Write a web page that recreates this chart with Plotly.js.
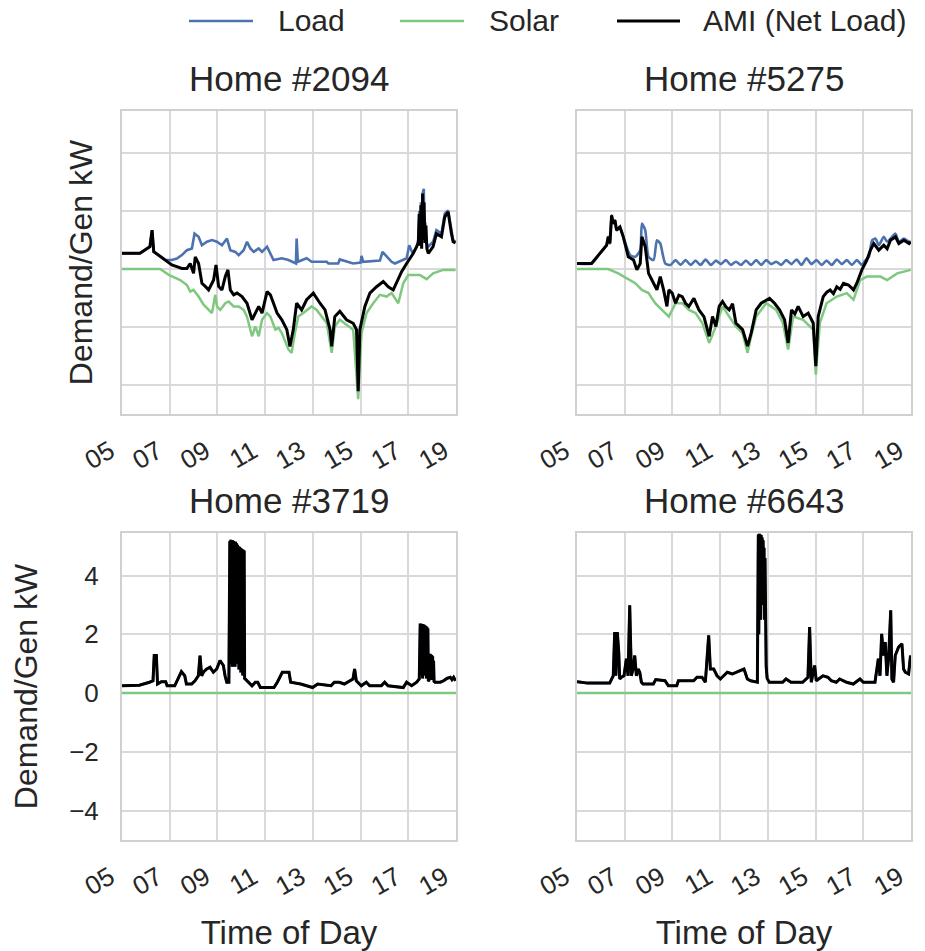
<!DOCTYPE html>
<html><head><meta charset="utf-8">
<script src="https://cdn.plot.ly/plotly-3.0.1.min.js"></script>
<style>html,body{margin:0;padding:0;background:#fff}#chart{width:925px;height:951px}</style>
</head><body><div id="chart"></div>
<script>
const homeTitles = ['Home #2094', 'Home #5275', 'Home #3719', 'Home #6643'];
const seriesNames = ['Load', 'Solar', 'AMI (Net Load)'];
const tickHours = [5, 7, 9, 11, 13, 15, 17, 19];
const tickLabels = ['05', '07', '09', '11', '13', '15', '17', '19'];
const yTicks = [-4, -2, 0, 2, 4];

// ---- Home #2094 ----
const h2094_load_t = [5.0,5.75,6.17,6.26,6.33,6.54,6.82,7.09,7.3,7.51,7.72,7.93,8.04,8.21,8.35,8.56,8.77,8.98,9.19,9.4,9.54,9.75,9.89,10.1,10.24,10.38,10.52,10.73,10.87,11.08,11.22,11.35,11.7,11.98,12.29,12.32,12.37,12.74,12.95,13.58,13.65,14.06,14.13,14.69,15.0,15.04,15.11,15.81,15.92,16.09,16.3,16.44,16.93,17.04,17.18,17.35,17.42,17.46,17.5,17.53,17.56,17.6,17.65,17.68,17.71,17.75,17.84,18.04,18.18,18.39,18.53,18.67,18.81,18.88,18.98];
const h2094_load   = [0.54,0.54,0.77,1.34,0.6,0.48,0.31,0.31,0.36,0.48,0.65,0.71,1.22,1.11,0.82,0.94,1.0,0.94,0.82,1.05,0.65,0.59,0.48,0.65,0.94,0.71,0.59,0.71,0.59,0.77,0.54,0.31,0.37,0.31,0.19,1.05,0.25,0.37,0.25,0.25,0.19,0.19,0.33,0.19,0.22,0.45,0.25,0.29,0.59,0.42,0.25,0.19,0.37,0.82,0.54,0.77,1.0,2.0,0.9,2.3,0.8,2.6,2.77,1.1,1.6,0.9,0.77,0.94,1.34,1.22,1.91,2.02,1.28,0.99,0.95];
const h2094_solar_t = [5.0,6.6,6.96,7.44,7.72,7.86,8.0,8.21,8.42,8.63,8.77,8.91,8.98,9.12,9.33,9.47,9.68,9.89,10.1,10.24,10.45,10.59,10.73,10.87,11.08,11.22,11.43,11.56,11.7,11.98,12.11,12.25,12.39,12.6,12.95,13.16,13.37,13.58,13.79,13.92,14.13,14.41,14.69,14.9,15.04,15.25,15.53,15.81,16.09,16.3,16.58,16.79,17.0,17.49,17.77,18.04,18.46,18.98];
const h2094_solar   = [0,0,-0.2,-0.38,-0.55,-0.78,-0.72,-0.95,-1.23,-1.41,-1.52,-0.89,-1.29,-1.41,-1.18,-1.12,-1.29,-1.29,-1.41,-1.64,-2.32,-1.98,-2.32,-1.75,-1.52,-1.64,-2.09,-2.03,-2.21,-2.78,-2.89,-2.21,-1.64,-1.52,-1.29,-1.41,-1.64,-1.86,-2.89,-1.98,-1.75,-1.92,-2.09,-4.49,-2.21,-1.52,-1.18,-0.89,-0.95,-0.83,-1.18,-0.49,-0.21,-0.21,-0.35,-0.15,-0.03,-0.03];
const h2094_ami_t = [5.0,5.75,6.17,6.26,6.33,6.54,6.82,7.09,7.3,7.51,7.72,7.86,8.0,8.07,8.21,8.35,8.49,8.63,8.84,8.94,9.05,9.19,9.33,9.44,9.54,9.68,9.82,10.03,10.24,10.45,10.59,10.73,10.87,11.08,11.22,11.36,11.5,11.7,11.91,12.04,12.18,12.32,12.53,12.74,13.02,13.3,13.51,13.72,13.79,13.92,14.13,14.41,14.69,14.83,14.9,14.97,15.18,15.39,15.67,15.95,16.16,16.37,16.51,16.72,16.93,17.07,17.21,17.35,17.42,17.46,17.5,17.53,17.56,17.6,17.63,17.66,17.7,17.74,17.78,17.84,18.04,18.18,18.39,18.53,18.67,18.81,18.88,18.98];
const h2094_ami   = [0.54,0.54,0.77,1.34,0.6,0.48,0.31,0.14,0.08,0.02,0.02,0.19,-0.15,0.42,0.19,-0.49,-0.6,-0.72,-0.38,0.14,-0.6,-0.72,-0.26,-0.03,-0.72,-0.89,-0.83,-0.95,-1.18,-1.75,-1.52,-1.29,-1.52,-0.78,-0.89,-1.18,-1.52,-1.75,-2.09,-2.67,-2.09,-1.18,-1.41,-1.06,-0.83,-1.18,-1.41,-2.09,-2.67,-1.64,-1.46,-1.75,-1.87,-2.09,-4.21,-2.09,-1.29,-0.83,-0.61,-0.43,-0.61,-0.72,-0.49,-0.09,0.19,0.37,0.54,0.77,0.9,1.9,0.8,2.2,0.7,2.6,1.0,2.3,0.9,1.5,0.7,0.54,0.77,1.22,1.11,1.8,1.97,1.22,0.94,0.9];

// ---- Home #5275 ----
const h5275_load_t = [5.0,5.61,5.96,6.24,6.31,6.38,6.45,6.52,6.59,6.66,6.8,6.94,7.08,7.23,7.44,7.65,7.72,7.86,8.0,8.21,8.35,8.49,8.7,8.92,9.13,9.34,9.55,9.76,9.97,10.18,10.39,10.61,10.82,11.03,11.24,11.45,11.66,11.87,12.08,12.3,12.51,12.72,12.93,13.14,13.35,13.56,13.77,13.99,14.2,14.41,14.62,14.83,15.04,15.25,15.46,15.68,15.89,16.1,16.31,16.52,16.73,16.94,17.08,17.23,17.37,17.51,17.65,17.86,18.0,18.14,18.35,18.49,18.7,18.92,18.99];
const h5275_load   = [0.19,0.19,0.54,0.82,1.11,0.88,1.85,1.57,1.68,1.34,1.45,1.11,0.77,0.48,0.42,0.65,1.57,1.34,0.42,0.31,0.99,0.88,0.19,0.14,0.31,0.14,0.31,0.14,0.29,0.14,0.33,0.14,0.29,0.17,0.31,0.14,0.25,0.14,0.29,0.14,0.31,0.14,0.31,0.17,0.25,0.14,0.31,0.17,0.33,0.14,0.37,0.17,0.31,0.14,0.29,0.14,0.33,0.17,0.31,0.14,0.31,0.14,0.29,0.42,0.99,1.05,0.82,1.11,0.94,1.05,1.22,0.94,1.05,0.94,0.94];
const h5275_solar_t = [5.0,6.31,6.73,7.08,7.44,7.72,8.0,8.14,8.28,8.56,8.85,9.13,9.41,9.69,9.97,10.25,10.54,10.82,11.1,11.38,11.66,11.94,12.15,12.3,12.51,12.93,13.35,13.63,13.85,14.06,14.48,14.9,15.01,15.18,15.46,15.89,16.31,16.59,16.87,17.15,17.72,18.0,18.42,18.99];
const h5275_solar   = [0,0,-0.15,-0.32,-0.49,-0.72,-0.83,-1.01,-1.18,-1.41,-1.64,-1.18,-1.18,-1.41,-1.52,-1.86,-2.55,-1.98,-1.29,-1.64,-1.98,-2.21,-2.89,-2.32,-1.64,-1.18,-1.41,-1.86,-2.78,-1.64,-1.75,-2.09,-3.64,-1.86,-1.18,-0.95,-0.83,-1.06,-0.38,-0.26,-0.26,-0.38,-0.15,-0.03];
const h5275_ami_t = [5.0,5.61,5.96,6.24,6.31,6.38,6.45,6.52,6.59,6.66,6.8,6.94,7.08,7.15,7.37,7.51,7.65,7.72,7.86,8.0,8.21,8.35,8.49,8.63,8.77,8.85,8.99,9.13,9.27,9.41,9.55,9.69,9.9,10.11,10.32,10.54,10.68,10.82,10.96,11.1,11.24,11.38,11.52,11.66,11.94,12.15,12.3,12.51,12.72,12.93,13.07,13.28,13.49,13.7,13.85,13.99,14.13,14.27,14.48,14.69,14.9,15.01,15.11,15.32,15.47,15.61,15.75,15.89,16.03,16.17,16.38,16.59,16.73,16.94,17.15,17.3,17.44,17.65,17.86,18.0,18.14,18.35,18.49,18.7,18.92,18.99];
const h5275_ami   = [0.19,0.19,0.54,0.82,1.11,0.88,1.85,1.57,1.68,1.34,1.45,1.11,0.65,0.42,0.31,-0.03,0.19,1.11,0.77,-0.15,-0.49,-0.72,-0.26,-0.72,-1.29,-0.72,-0.83,-1.18,-0.9,-0.95,-1.18,-1.29,-1.01,-1.41,-1.64,-2.32,-1.64,-1.98,-1.29,-1.12,-1.3,-1.41,-1.2,-1.86,-2.09,-2.66,-2.21,-1.41,-1.18,-1.06,-1.01,-1.18,-1.41,-1.75,-2.55,-1.41,-1.55,-1.29,-1.64,-1.52,-1.86,-3.35,-1.64,-0.95,-0.8,-0.72,-0.85,-0.61,-0.7,-0.49,-0.55,-0.72,-0.49,-0.03,0.31,0.65,0.88,0.65,0.82,0.7,0.99,1.11,0.88,0.99,0.88,0.94];

// ---- Home #3719 (no solar: load equals net load) ----
const h3719_ami_t = [5.0,5.73,6.15,6.3,6.35,6.44,6.49,6.65,6.83,6.89,7.21,7.35,7.49,7.63,7.7,7.92,8.06,8.2,8.27,8.34,8.41,8.55,8.69,8.83,8.97,9.11,9.25,9.32,9.39,9.48,9.52,9.54,9.56,9.58,9.6,9.62,9.64,9.66,9.68,9.7,9.72,9.74,9.76,9.78,9.8,9.82,9.84,9.86,9.88,9.9,9.92,9.94,9.96,9.98,10.0,10.02,10.04,10.06,10.08,10.1,10.12,10.14,10.24,10.45,10.59,10.69,10.8,11.37,11.51,11.72,12.0,12.07,12.49,12.99,13.2,13.76,13.9,14.11,14.32,14.68,14.75,14.82,15.03,15.24,15.38,15.87,16.01,16.15,16.79,16.93,17.14,17.35,17.46,17.5,17.52,17.54,17.56,17.58,17.6,17.62,17.64,17.66,17.68,17.7,17.72,17.74,17.76,17.78,17.8,17.82,17.84,17.87,17.9,17.92,17.94,17.96,17.98,18.0,18.02,18.04,18.06,18.08,18.12,18.34,18.48,18.62,18.76,18.83,18.9,18.98];
const h3719_ami   = [0.25,0.27,0.37,0.42,1.28,1.28,0.31,0.39,0.39,0.25,0.25,0.48,0.73,0.59,0.31,0.31,0.42,0.59,1.28,0.59,0.71,0.82,0.88,0.71,0.82,1.11,0.94,0.59,0.37,0.37,5.17,1.0,5.22,1.3,5.2,0.9,5.2,1.4,5.18,1.1,5.15,0.9,5.15,1.5,5.1,1.0,5.05,1.2,5.0,0.8,4.98,1.3,4.95,0.7,4.92,1.0,4.9,0.6,4.88,0.8,4.85,0.5,0.42,0.25,0.37,0.37,0.19,0.19,0.37,0.71,0.71,0.37,0.31,0.19,0.31,0.25,0.37,0.37,0.31,0.48,0.82,0.42,0.25,0.37,0.25,0.25,0.37,0.25,0.19,0.37,0.25,0.37,0.48,2.37,0.6,2.36,0.9,2.35,0.5,2.34,0.8,2.33,0.6,2.3,0.7,2.28,0.5,2.25,0.6,2.2,0.4,0.45,1.34,0.5,1.32,0.6,1.3,0.45,1.25,0.5,1.1,0.4,0.37,0.37,0.42,0.5,0.54,0.46,0.54,0.42];
const h3719_load_t = h3719_ami_t;
const h3719_load   = h3719_ami;
const h3719_solar_t = [5.0, 19.0];
const h3719_solar   = [0, 0];

// ---- Home #6643 (no solar: load equals net load) ----
const h6643_ami_t = [5.0,5.45,6.37,6.44,6.52,6.58,6.63,6.69,6.75,6.79,6.86,6.97,7.07,7.14,7.21,7.28,7.35,7.42,7.49,7.56,7.63,7.7,7.77,8.2,8.3,8.69,8.83,9.18,9.25,9.89,10.03,10.24,10.38,10.52,10.59,10.73,10.87,11.01,11.15,11.3,11.51,11.72,11.86,12.0,12.14,12.28,12.56,12.6,12.62,12.64,12.66,12.68,12.7,12.72,12.74,12.76,12.78,12.8,12.82,12.84,12.86,12.88,12.9,12.93,12.97,13.06,13.62,13.76,13.97,14.46,14.68,14.75,14.82,14.96,15.03,15.31,15.52,15.66,15.87,16.01,16.3,16.58,16.86,17.0,17.49,17.63,17.7,17.77,17.85,17.92,17.99,18.06,18.15,18.2,18.27,18.34,18.48,18.62,18.69,18.76,18.9,18.98];
const h6643_ami   = [0.39,0.34,0.34,0.48,0.59,2.08,0.59,2.08,1.39,0.48,0.54,0.59,1.17,0.59,2.99,0.59,0.82,1.28,0.59,0.82,0.71,0.37,0.31,0.31,0.46,0.42,0.25,0.25,0.42,0.42,0.54,0.54,0.37,1.97,0.82,0.82,0.59,0.48,0.59,0.71,0.65,0.71,0.77,0.82,0.48,0.42,0.37,5.4,2.0,5.42,3.0,5.4,2.5,5.38,3.5,5.3,3.0,5.2,4.0,4.95,2.5,4.6,1.5,0.9,0.5,0.37,0.37,0.48,0.37,0.37,0.54,2.25,0.37,0.94,0.42,0.59,0.54,0.42,0.37,0.48,0.37,0.31,0.48,0.37,0.37,1.17,0.59,2.02,1.28,1.74,0.59,1.17,2.82,0.48,0.37,1.28,1.57,1.68,0.82,0.71,0.65,1.28];
const h6643_load_t = h6643_ami_t;
const h6643_load   = h6643_ami;
const h6643_solar_t = [5.0, 19.0];
const h6643_solar   = [0, 0];

const homeData = [
  [h2094_load_t, h2094_load, h2094_solar_t, h2094_solar, h2094_ami_t, h2094_ami],
  [h5275_load_t, h5275_load, h5275_solar_t, h5275_solar, h5275_ami_t, h5275_ami],
  [h3719_load_t, h3719_load, h3719_solar_t, h3719_solar, h3719_ami_t, h3719_ami],
  [h6643_load_t, h6643_load, h6643_solar_t, h6643_solar, h6643_ami_t, h6643_ami]
];

const colors = ['#4c72b0', '#7ec87f', '#000000'];
const widths = [2.6, 2.5, 3];
const suffix = ['', '2', '3', '4'];

const traces = [];
homeData.forEach((d, i) => {
  for (let s = 0; s < 3; s++) {
    const tr = {
      type: 'scatter', mode: 'lines',
      x: d[s * 2], y: d[s * 2 + 1],
      name: seriesNames[s], legendgroup: seriesNames[s], showlegend: false,
      line: {color: colors[s], width: widths[s]},
      xaxis: 'x' + suffix[i], yaxis: 'y' + suffix[i],
      hoverinfo: 'skip'
    };
    if (i === 1 && s === 0) { tr.line.shape = 'spline'; tr.line.smoothing = 0.6; }
    traces.push(tr);
  }
});

const FONT = '"Liberation Sans", Arial, Helvetica, sans-serif';
const TXT = '#262626';
const GRID = '#d9d9d9';

function xAx(domain, anchor, withTitle) {
  const a = {
    domain: domain, anchor: anchor, range: [5, 19],
    tickmode: 'array', tickvals: tickHours, ticktext: tickLabels, tickangle: -30,
    tickfont: {size: 26, color: TXT, family: FONT},
    ticks: '', ticklabelstandoff: 10, ticklabelshift: -12,
    showgrid: true, gridcolor: GRID, gridwidth: 2,
    showline: true, mirror: true, linecolor: '#d0d0d0', linewidth: 2,
    zeroline: false, fixedrange: true
  };
  if (withTitle) a.title = {text: 'Time of Day', font: {size: 33, color: TXT, family: FONT}, standoff: 21};
  return a;
}
function yAx(domain, anchor, labels, withTitle) {
  const a = {
    domain: domain, anchor: anchor, range: [-5.0, 5.45],
    tickmode: 'array', tickvals: yTicks, showticklabels: labels,
    tickfont: {size: 26, color: TXT, family: FONT},
    ticks: '', ticklabelstandoff: 16,
    showgrid: true, gridcolor: GRID, gridwidth: 2,
    showline: true, mirror: true, linecolor: '#d0d0d0', linewidth: 2,
    zeroline: false, fixedrange: true
  };
  if (withTitle) a.title = {text: 'Demand/Gen kW', font: {size: 32, color: TXT, family: FONT}, standoff: labels ? 22 : 18};
  return a;
}

const L = 122, R = 14, T = 111, B = 111;
const W = 925, H = 951;
const pw = W - L - R, ph = H - T - B;
const px = v => (v - L) / pw;          // pixel x -> paper x
const py = v => (H - B - v) / ph;      // pixel y -> paper y

const colL = [px(122), px(456)], colR = [px(577), px(911)];
const rowT = [py(414), py(111)], rowB = [py(840), py(533)];

const annotations = [];
const titlePos = [[(122 + 456) / 2, 78], [(577 + 911) / 2, 78], [(122 + 456) / 2, 500], [(577 + 911) / 2, 500]];
homeTitles.forEach((t, i) => {
  annotations.push({text: t, xref: 'paper', yref: 'paper', x: px(titlePos[i][0]), y: py(titlePos[i][1]),
    xanchor: 'center', yanchor: 'middle', showarrow: false, font: {size: 35, color: TXT, family: FONT}});
});

// legend (drawn manually to match the long line samples)
const legLines = [[189, 253], [400, 464], [617, 680]];
const legText = [276, 487, 701];
const shapes = [];
for (let s = 0; s < 3; s++) {
  shapes.push({type: 'line', xref: 'paper', yref: 'paper', x0: px(legLines[s][0]), x1: px(legLines[s][1]),
    y0: py(21), y1: py(21), line: {color: colors[s], width: widths[s]}});
  annotations.push({text: seriesNames[s], xref: 'paper', yref: 'paper', x: px(legText[s]), y: py(21),
    xanchor: 'left', yanchor: 'middle', showarrow: false, font: {size: 30, color: TXT, family: FONT}});
}

const layout = {
  width: W, height: H,
  margin: {l: L, r: R, t: T, b: B, pad: 0},
  paper_bgcolor: '#ffffff', plot_bgcolor: '#ffffff',
  font: {family: FONT, color: TXT},
  showlegend: false,
  xaxis: xAx(colL, 'y', false),
  xaxis2: xAx(colR, 'y2', false),
  xaxis3: xAx(colL, 'y3', true),
  xaxis4: xAx(colR, 'y4', true),
  yaxis: yAx(rowT, 'x', false, true),
  yaxis2: yAx(rowT, 'x2', false, false),
  yaxis3: yAx(rowB, 'x3', true, true),
  yaxis4: yAx(rowB, 'x4', false, false),
  annotations: annotations,
  shapes: shapes
};

Plotly.newPlot('chart', traces, layout, {displayModeBar: false, staticPlot: true});
</script>
</body></html>
